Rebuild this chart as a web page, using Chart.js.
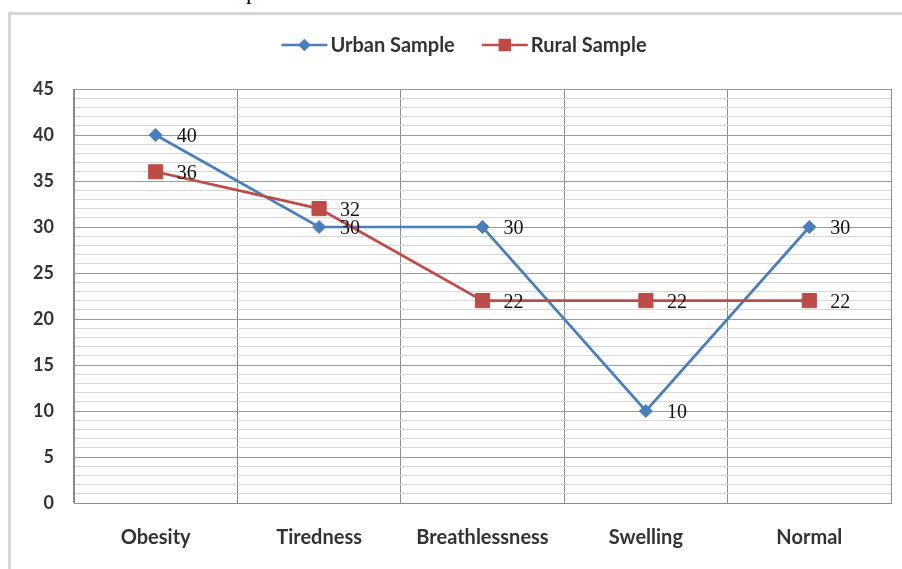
<!DOCTYPE html>
<html><head><meta charset="utf-8">
<script src="https://cdn.jsdelivr.net/npm/chart.js@4.4.0/dist/chart.umd.min.js"></script>
<style>
html,body{margin:0;padding:0;background:#fff;overflow:hidden;width:902px;height:569px;}
#cap{position:absolute;left:0;top:-20px;width:274px;text-align:right;white-space:nowrap;font:23px "Liberation Serif",serif;color:#000;line-height:23px;}
#frame{position:absolute;left:8px;top:12px;width:900px;height:570px;border-left:3px solid #d6d6d6;border-top:3px solid #d6d6d6;}
#c{position:absolute;left:0;top:0;}
</style></head>
<body>
<div id="cap">in the urban and rural sample</div>
<div id="frame"></div>
<canvas id="c" width="902" height="569"></canvas>
<script>
const categories = ['Obesity', 'Tiredness', 'Breathlessness', 'Swelling', 'Normal'];
const seriesNames = ['Urban Sample', 'Rural Sample'];
const urbanValues = [40, 30, 30, 10, 30];
const ruralValues = [36, 32, 22, 22, 22];
const yTickLabels = [0, 5, 10, 15, 20, 25, 30, 35, 40, 45];

const BLUE = '#4a7ebb', RED = '#be4b48';
const xFont = {family: 'Lato', size: 20, weight: 'bold'};
const yFont = {family: 'Lato', size: 18, weight: 'bold'};
const tickColor = '#333333';

const labelPlugin = {
  id: 'vlabels',
  afterDatasetsDraw(chart) {
    const ctx = chart.ctx;
    ctx.save();
    ctx.font = '20px "Liberation Serif"';
    ctx.fillStyle = '#111';
    ctx.textBaseline = 'middle';
    chart.data.datasets.forEach((ds, i) => {
      chart.getDatasetMeta(i).data.forEach((pt, j) => {
        ctx.fillText(String(ds.data[j]), pt.x + 21, pt.y + 2);
      });
    });
    ctx.restore();
  }
};

const legendPlugin = {
  id: 'customLegend',
  afterDraw(chart) {
    const ctx = chart.ctx;
    ctx.save();
    ctx.font = 'bold 20px Lato';
    const lineLen = 46, gap = 3, itemGap = 27;
    const items = chart.data.datasets.map(ds => ({ds, w: ctx.measureText(ds.label).width}));
    let total = 0;
    items.forEach((it, k) => { total += lineLen + gap + it.w + (k < items.length - 1 ? itemGap : 0); });
    let x = 464 - total / 2;
    const y = 45;
    items.forEach(it => {
      const ds = it.ds;
      ctx.strokeStyle = ds.borderColor;
      ctx.lineWidth = 2.5;
      ctx.beginPath(); ctx.moveTo(x, y); ctx.lineTo(x + lineLen, y); ctx.stroke();
      ctx.fillStyle = ds.backgroundColor;
      Chart.helpers.drawPoint(ctx, {pointStyle: ds.pointStyle, radius: ds.pointRadius * 0.7, borderWidth: 1, rotation: 0}, x + lineLen / 2, y);
      ctx.fill();
      ctx.fillStyle = tickColor;
      ctx.textBaseline = 'middle';
      ctx.fillText(ds.label, x + lineLen + gap, y + 1);
      x += lineLen + gap + it.w + itemGap;
    });
    ctx.restore();
  }
};

new Chart(document.getElementById('c'), {
  type: 'line',
  data: {
    labels: categories,
    datasets: [
      {label: seriesNames[0], data: urbanValues, borderColor: BLUE, backgroundColor: BLUE,
       borderWidth: 2.7, pointStyle: 'rectRot', pointRadius: 6.5, pointBorderWidth: 1, tension: 0, order: 2},
      {label: seriesNames[1], data: ruralValues, borderColor: RED, backgroundColor: RED,
       borderWidth: 2.7, pointStyle: 'rect', pointRadius: 10, pointBorderWidth: 1, tension: 0, order: 1}
    ]
  },
  options: {
    responsive: false,
    devicePixelRatio: 1,
    animation: false,
    layout: {padding: {top: 89, right: 11, left: 0, bottom: 0}},
    plugins: {legend: {display: false}, tooltip: {enabled: false}},
    scales: {
      x: {
        offset: true,
        grid: {offset: true, color: '#8c8c8c', drawTicks: false, lineWidth: 1},
        border: {color: '#8c8c8c'},
        ticks: {font: xFont, color: tickColor, padding: 23},
        afterFit: s => { s.height = 66; }
      },
      y: {
        min: 0, max: 45,
        afterBuildTicks: s => {
          const t = [];
          for (let v = 0; v <= 45; v++) t.push({value: v});
          s.ticks = t;
        },
        ticks: {font: yFont, color: tickColor, padding: 20, autoSkip: false,
                callback: v => yTickLabels.includes(v) ? String(v) : ''},
        grid: {drawTicks: false, color: c => (c.tick && c.tick.value % 5 === 0) ? '#9a9a9a' : '#d6d6d6'},
        border: {color: '#8c8c8c'},
        afterFit: s => { s.width = 74; }
      }
    }
  },
  plugins: [labelPlugin, legendPlugin]
});
</script>
</body></html>
